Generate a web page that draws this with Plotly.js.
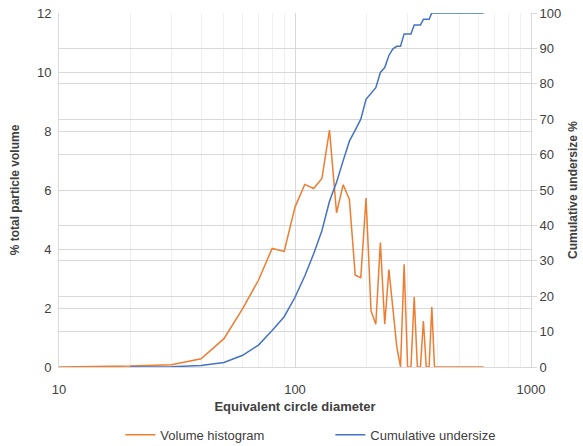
<!DOCTYPE html>
<html>
<head>
<meta charset="utf-8">
<script src="https://cdn.plot.ly/plotly-3.0.1.min.js"></script>
<style>
  html, body { margin: 0; padding: 0; background: #fff; }
  #chart { width: 583px; height: 446px; }
</style>
</head>
<body>
<div id="chart"></div>
<script>
// Equivalent circle diameter (bin positions)
const diameters = [10,20,30,40,50,60,70,80,90,100,110,120,130,140,150,160,170,180,190,200,
  210,220,230,240,250,260,270,280,290,300,310,320,330,340,350,360,370,380,390,400,
  410,420,430,440,450,460,470,480,490,500,510,520,530,540,550,560,570,580,590,600,
  610,620,630];

// % total particle volume (volume histogram)
const volumeHistogram = [0,0.03,0.08,0.28,0.96,1.98,2.94,4.02,3.92,5.42,6.19,6.05,6.39,8.03,5.23,6.18,5.68,3.11,3.03,5.73,
  1.90,1.45,4.22,1.45,3.30,1.90,0.68,0,3.48,0,0,2.37,0,0,1.56,0,0,2.03,0,0,
  0,0,0,0,0,0,0,0,0,0,0,0,0,0,0,0,0,0,0,0,
  0,0,0];

// Cumulative undersize diameters (series starts at 20)
const cumDiameters = [20,30,40,50,60,70,80,90,100,110,120,130,140,150,160,170,180,190,200,
  210,220,230,240,250,260,270,280,290,300,310,320,330,340,350,360,370,380,390,400,
  410,420,430,440,450,460,470,480,490,500,510,520,530,540,550,560,570,580,590,600,
  610,620,630];

// Cumulative undersize %
const cumulativeUndersize = [0,0.1,0.4,1.3,3.3,6.2,10.3,14.2,19.7,25.7,32.0,38.5,46.8,52.2,58.3,63.8,66.9,70.0,75.6,
  77.4,78.9,83.2,84.6,88.0,89.9,90.6,90.6,94.1,94.1,94.1,96.6,96.6,96.6,98.2,98.2,98.2,100,100,100,
  100,100,100,100,100,100,100,100,100,100,100,100,100,100,100,100,100,100,100,100,
  100,100,100];

const xTickVals = [10, 100, 1000];
const xTickText = ['10', '100', '1000'];
const xMinorVals = [20,30,40,50,60,70,80,90,200,300,400,500,600,700,800,900];

const FONT = 'Liberation Sans, Arial, sans-serif';
const TXT = '#404040';

const traces = [
  {
    x: diameters, y: volumeHistogram, name: 'Volume histogram',
    type: 'scatter', mode: 'lines',
    line: { color: '#ED7D31', width: 1.5 },
    xaxis: 'x', yaxis: 'y'
  },
  {
    x: cumDiameters, y: cumulativeUndersize, name: 'Cumulative undersize',
    type: 'scatter', mode: 'lines',
    line: { color: '#4472C4', width: 1.5 },
    xaxis: 'x', yaxis: 'y2'
  }
];

const layout = {
  width: 583, height: 446,
  margin: { l: 59, r: 52, t: 13, b: 79, pad: 0 },
  paper_bgcolor: '#fff', plot_bgcolor: '#fff',
  font: { family: FONT, size: 13, color: TXT },
  showlegend: true,
  legend: {
    orientation: 'h', xref: 'paper', x: 0.13, xanchor: 'left',
    yref: 'container', y: 0.025, yanchor: 'middle',
    font: { family: FONT, size: 13, color: TXT },
    entrywidth: 165, bgcolor: 'rgba(0,0,0,0)'
  },
  xaxis: {
    type: 'log', range: [1, 3],
    tickmode: 'array', tickvals: xTickVals, ticktext: xTickText,
    showgrid: true, gridcolor: '#d9d9d9', gridwidth: 1,
    minor: { tickmode: 'array', tickvals: xMinorVals, showgrid: true, gridcolor: '#efefef', gridwidth: 1, ticks: '' },
    showline: true, linecolor: '#d9d9d9', linewidth: 1,
    ticks: 'outside', ticklen: 10, tickcolor: 'rgba(0,0,0,0)',
    zeroline: false,
    tickfont: { family: FONT, size: 13, color: TXT },
    title: { text: 'Equivalent circle diameter', font: { family: FONT, size: 13, color: TXT, weight: 'bold' }, standoff: 6 },
    automargin: false
  },
  yaxis: {
    range: [0, 12], dtick: 2, tick0: 0,
    showgrid: true, gridcolor: '#d9d9d9', gridwidth: 1,
    showline: true, linecolor: '#d9d9d9', linewidth: 1,
    ticks: 'outside', ticklen: 4, tickcolor: 'rgba(0,0,0,0)',
    zeroline: false,
    tickfont: { family: FONT, size: 13, color: TXT },
    title: { text: '% total particle volume', font: { family: FONT, size: 12, color: TXT, weight: 'bold' }, standoff: 14 },
    automargin: false
  },
  yaxis2: {
    overlaying: 'y', side: 'right',
    range: [0, 100], dtick: 10, tick0: 0,
    showgrid: true, gridcolor: '#d9d9d9', gridwidth: 1,
    showline: true, linecolor: '#d9d9d9', linewidth: 1,
    ticks: 'outside', ticklen: 5, tickcolor: '#d9d9d9',
    zeroline: false,
    tickfont: { family: FONT, size: 13, color: TXT },
    title: { text: 'Cumulative undersize %', font: { family: FONT, size: 12, color: TXT, weight: 'bold' }, standoff: 8 },
    automargin: false
  },
  hovermode: false
};

Plotly.newPlot('chart', traces, layout, { displayModeBar: false, staticPlot: true });
</script>
</body>
</html>
